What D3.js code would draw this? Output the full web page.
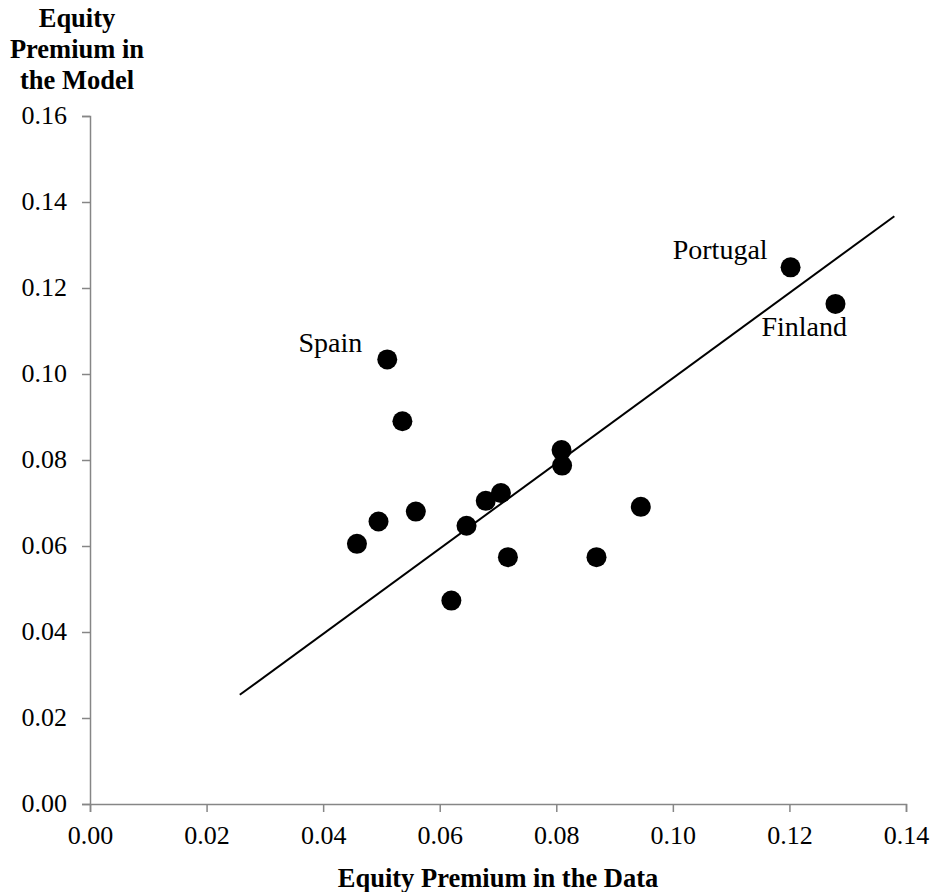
<!DOCTYPE html>
<html>
<head>
<meta charset="utf-8">
<script src="https://cdn.jsdelivr.net/npm/d3@7"></script>
<style>
  body { margin: 0; background: #fff; }
  text { font-family: "Liberation Serif", "Times New Roman", serif; fill: #000; }
</style>
</head>
<body>
<svg id="viz"></svg>
<script>
// equity premium: data (x) vs model (y)
const countries = ["Spain", "", "", "", "", "", "", "", "", "", "", "", "", "", "Portugal", "Finland"]
const premData = [0.0510, 0.0536, 0.0559, 0.0495, 0.0458, 0.0620, 0.0646, 0.0809, 0.0810, 0.0679, 0.0705, 0.0717, 0.0869, 0.0945, 0.1202, 0.1279]
const premModel = [0.1034, 0.0890, 0.0680, 0.0657, 0.0605, 0.0473, 0.0647, 0.0823, 0.0787, 0.0705, 0.0723, 0.0574, 0.0574, 0.0691, 0.1248, 0.1163]
const fitX = [0.0257, 0.1380]
const fitY = [0.0254, 0.1367]
const xTicks = [0, 0.02, 0.04, 0.06, 0.08, 0.10, 0.12, 0.14]
const yTicks = [0, 0.02, 0.04, 0.06, 0.08, 0.10, 0.12, 0.14, 0.16]

var width = 931,
    height = 892
var margin = { top: 116, right: 25, bottom: 88, left: 90 }

// label offsets from the dot (px)
var labelPos = {
    Spain: { dx: -25, dy: -7, anchor: "end" },
    Portugal: { dx: -23, dy: -8, anchor: "end" },
    Finland: { dx: -74, dy: 32, anchor: "start" }
}

var data = premData.map((d, i) => ({ name: countries[i], x: d, y: premModel[i] }))

var x = d3.scaleLinear()
    .domain([0, 0.14])
    .range([margin.left, width - margin.right])
var y = d3.scaleLinear()
    .domain([0, 0.16])
    .range([height - margin.bottom, margin.top])

var svg = d3.select("#viz")
    .attr("width", width)
    .attr("height", height)

var xAxis = g => g
    .attr("transform", `translate(0,${y(0)})`)
    .call(d3.axisBottom(x).tickValues(xTicks).tickFormat(d3.format(".2f")).tickSizeOuter(0).tickSize(8).tickPadding(14))
var yAxis = g => g
    .attr("transform", `translate(${x(0)},0)`)
    .call(d3.axisLeft(y).tickValues(yTicks).tickFormat(d3.format(".2f")).tickSizeOuter(0).tickSize(8).tickPadding(15))

svg.append("g").attr("class", "xaxis").call(xAxis)
svg.append("g").attr("class", "yaxis").call(yAxis)

svg.selectAll(".domain, .tick line")
    .attr("stroke", "#868686")
    .attr("stroke-width", 1.5)
svg.selectAll(".tick text")
    .attr("font-size", 26)
    .attr("font-family", "Liberation Serif, Times New Roman, serif")
    .attr("fill", "#000")
svg.selectAll(".yaxis .tick text").attr("dy", "0.3em")
svg.selectAll(".xaxis .tick text").attr("dy", "0.71em")

// fitted line
svg.append("line")
    .attr("x1", x(fitX[0])).attr("y1", y(fitY[0]))
    .attr("x2", x(fitX[1])).attr("y2", y(fitY[1]))
    .attr("stroke", "#000")
    .attr("stroke-width", 2)

svg.append("g")
    .selectAll("circle")
    .data(data)
    .join("circle")
    .attr("cx", d => x(d.x))
    .attr("cy", d => y(d.y))
    .attr("r", 10)
    .attr("fill", "#000")

svg.append("g")
    .selectAll("text")
    .data(data.filter(d => d.name))
    .join("text")
    .attr("x", d => x(d.x) + labelPos[d.name].dx)
    .attr("y", d => y(d.y) + labelPos[d.name].dy)
    .attr("text-anchor", d => labelPos[d.name].anchor)
    .attr("font-size", 28)
    .text(d => d.name)

// axis titles
svg.append("text")
    .attr("x", (x(0) + x(0.14)) / 2)
    .attr("y", 887)
    .attr("text-anchor", "middle")
    .attr("font-size", 26.5)
    .attr("font-weight", "bold")
    .text("Equity Premium in the Data")

svg.append("text")
    .attr("text-anchor", "middle")
    .attr("font-size", 26.5)
    .attr("font-weight", "bold")
    .selectAll("tspan")
    .data(["Equity", "Premium in", "the Model"])
    .join("tspan")
    .attr("x", 77)
    .attr("y", (d, i) => 27 + i * 31)
    .text(d => d)
</script>
</body>
</html>
